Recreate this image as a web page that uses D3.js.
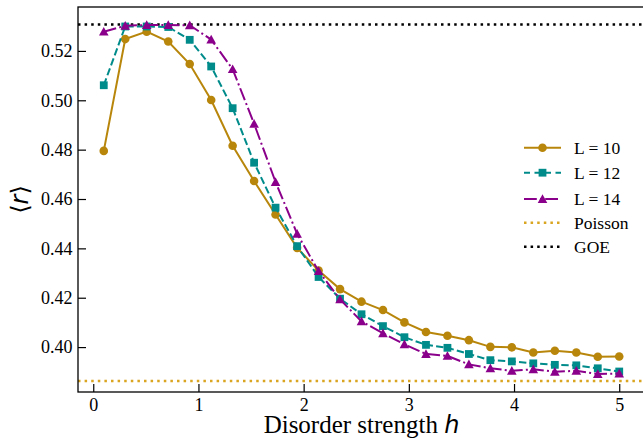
<!DOCTYPE html>
<html>
<head>
<meta charset="utf-8">
<script src="https://cdn.jsdelivr.net/npm/d3@7"></script>
<style>
  body { margin: 0; background: #fff; }
  svg { display: block; }
  .tick text { font-family: "Liberation Serif", "Times New Roman", serif; font-size: 18px; fill: #000; }
</style>
</head>
<body>
<div id="chart"></div>
<script>
// disorder strength h (25 points, 0.1 .. 5)
var hVals = [0.1, 0.304, 0.508, 0.713, 0.917, 1.121, 1.325, 1.529, 1.733, 1.938,
             2.142, 2.346, 2.55, 2.754, 2.958, 3.163, 3.367, 3.571, 3.775, 3.979,
             4.183, 4.388, 4.592, 4.796, 5.0];

var rL10 = [0.4795, 0.5248, 0.5278, 0.5238, 0.5147, 0.5001, 0.4816, 0.4673, 0.4537, 0.4402,
            0.4310, 0.4235, 0.4184, 0.4150, 0.4100, 0.4061, 0.4046, 0.4028, 0.4001, 0.3999,
            0.3978, 0.3985, 0.3978, 0.3961, 0.3962];
var rL12 = [0.5061, 0.5299, 0.5299, 0.5297, 0.5245, 0.5137, 0.4968, 0.4747, 0.4565, 0.4409,
            0.4284, 0.4196, 0.4133, 0.4085, 0.4040, 0.4009, 0.3997, 0.3972, 0.3947, 0.3942,
            0.3934, 0.3928, 0.3926, 0.3914, 0.3901];
var rL14 = [0.5278, 0.5302, 0.5305, 0.5305, 0.5304, 0.5246, 0.5126, 0.4905, 0.4669, 0.4459,
            0.4308, 0.4193, 0.4104, 0.4056, 0.4011, 0.3972, 0.3964, 0.3930, 0.3914, 0.3904,
            0.3910, 0.3900, 0.3904, 0.3891, 0.3893];

var rPoisson = 0.3863;
var rGOE = 0.5307;

var xTicks = [0, 1, 2, 3, 4, 5];
var yTicks = [0.40, 0.42, 0.44, 0.46, 0.48, 0.50, 0.52];

var seriesNames = ["L = 10", "L = 12", "L = 14"];
var refNames = ["Poisson", "GOE"];

var W = 643, H = 443;
var L = 78, R = 645, T = 7, B = 392;

var svg = d3.select("#chart").append("svg").attr("width", W).attr("height", H);

var x = d3.scaleLinear().domain([-0.145, 5.245]).range([L, R]);
var y = d3.scaleLinear().domain([0.3818, 0.5378]).range([B, T]);

// styles per series
var styles = [
  {name: seriesNames[0], data: rL10, color: "#B8860B", dash: null, marker: "circle"},
  {name: seriesNames[1], data: rL12, color: "#008B8B", dash: "7.4,3.2", marker: "square"},
  {name: seriesNames[2], data: rL14, color: "#8B008B", dash: "12.8,3.2,2,3.2", marker: "triangle"}
];
var refs = [
  {name: refNames[0], val: rPoisson, color: "#DAA520"},
  {name: refNames[1], val: rGOE, color: "#000"}
];

function markerPath(type) {
  if (type === "circle") return d3.symbol().type(d3.symbolCircle).size(Math.PI * 4.3 * 4.3)();
  if (type === "square") return "M-3.9,-3.9L3.9,-3.9L3.9,3.9L-3.9,3.9Z";
  return "M0,-4.8L4.8,3.9L-4.8,3.9Z";
}

var plot = svg.append("g");

// reference lines
refs.forEach(function (r) {
  plot.append("line")
    .attr("x1", L).attr("x2", R)
    .attr("y1", y(r.val)).attr("y2", y(r.val))
    .attr("stroke", r.color).attr("stroke-width", 2.5)
    .attr("stroke-dasharray", "2.5,4.1");
});

var line = d3.line().x(function (d) { return x(d[0]); }).y(function (d) { return y(d[1]); });

styles.forEach(function (s) {
  var pts = hVals.map(function (h, i) { return [h, s.data[i]]; });
  plot.append("path")
    .attr("d", line(pts))
    .attr("fill", "none")
    .attr("stroke", s.color)
    .attr("stroke-width", 2)
    .attr("stroke-dasharray", s.dash);
  plot.selectAll(null).data(pts).enter().append("path")
    .attr("d", markerPath(s.marker))
    .attr("transform", function (d) { return "translate(" + x(d[0]) + "," + y(d[1]) + ")"; })
    .attr("fill", s.color);
});

// axes
var yAxis = d3.axisLeft(y).tickValues(yTicks).tickFormat(d3.format(".2f"))
  .tickSizeInner(-8).tickSizeOuter(0).tickPadding(5.5);
var gy = svg.append("g").attr("transform", "translate(" + L + ",0)").call(yAxis);
gy.select(".domain").remove();
gy.selectAll(".tick line").attr("stroke", "#000").attr("stroke-width", 1.2);

var xAxis = d3.axisBottom(x).tickValues(xTicks).tickFormat(d3.format("d"))
  .tickSizeInner(-8).tickSizeOuter(0).tickPadding(6);
var gx = svg.append("g").attr("transform", "translate(0," + B + ")").call(xAxis);
gx.select(".domain").remove();
gx.selectAll(".tick line").attr("stroke", "#000").attr("stroke-width", 1.2);

// spines
svg.append("rect")
  .attr("x", L).attr("y", T).attr("width", R - L).attr("height", B - T)
  .attr("fill", "none").attr("stroke", "#000").attr("stroke-width", 1.3);

// axis labels
var xl = svg.append("text")
  .attr("x", (L + R) / 2).attr("y", 433)
  .attr("text-anchor", "middle")
  .style("font-family", "Liberation Serif, serif").style("font-size", "25px");
xl.append("tspan").text("Disorder strength ");
xl.append("tspan").text("h").style("font-family", "DejaVu Sans, sans-serif").style("font-style", "italic").style("font-size", "24px");

var yl = svg.append("text")
  .attr("transform", "translate(28," + ((T + B) / 2) + ") rotate(-90)")
  .attr("text-anchor", "middle")
  .style("font-family", "DejaVu Sans, sans-serif").style("font-size", "24px");
yl.append("tspan").text("\u27E8");
yl.append("tspan").text("r").style("font-style", "italic");
yl.append("tspan").text("\u27E9");

// legend
var lg = svg.append("g");
var rowY = [147.7, 172.7, 199, 222.8, 246.7];
var lx0 = 524, lx1 = 561, tx = 574;
styles.forEach(function (s, i) {
  var g = lg.append("g").attr("transform", "translate(0," + rowY[i] + ")");
  g.append("line").attr("x1", lx0).attr("x2", lx1).attr("y1", 0).attr("y2", 0)
    .attr("stroke", s.color).attr("stroke-width", 2)
    .attr("stroke-dasharray", s.dash ? (i === 1 ? "6,4.5" : "12.8,3.2,2,3.2") : null);
  g.append("path").attr("d", markerPath(s.marker))
    .attr("transform", "translate(" + ((lx0 + lx1) / 2) + ",0)").attr("fill", s.color);
  g.append("text").attr("x", tx).attr("y", 0).attr("dy", "0.35em").text(s.name)
    .style("font-family", "Liberation Serif, serif").style("font-size", "17.5px");
});
refs.forEach(function (r, j) {
  var g = lg.append("g").attr("transform", "translate(0," + rowY[3 + j] + ")");
  g.append("line").attr("x1", lx0).attr("x2", lx1).attr("y1", 0).attr("y2", 0)
    .attr("stroke", r.color).attr("stroke-width", 2.5).attr("stroke-dasharray", "2.5,4.1");
  g.append("text").attr("x", tx).attr("y", 0).attr("dy", "0.35em").text(r.name)
    .style("font-family", "Liberation Serif, serif").style("font-size", "17.5px");
});
</script>
</body>
</html>
